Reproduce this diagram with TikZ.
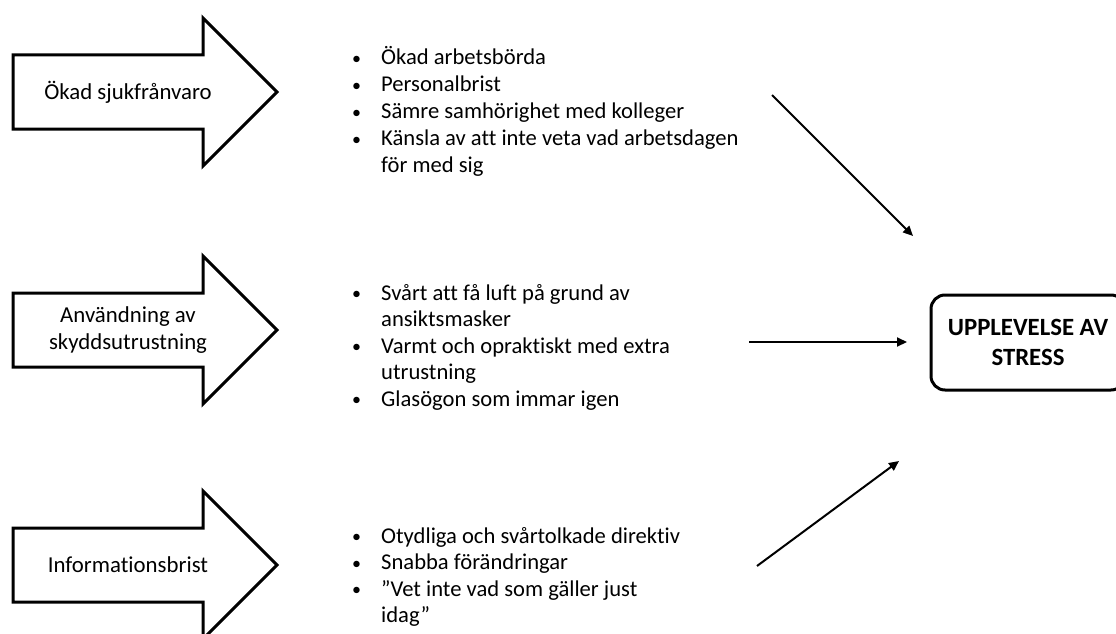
\documentclass[tikz,border=0pt]{standalone}
\usepackage{fontspec}
\setmainfont{Carlito}[Ligatures=NoCommon]
\usetikzlibrary{arrows.meta}
\tikzset{
  blockarrow/.style={line width=3pt,line join=miter,fill=white},
  factor/.style={align=center,inner sep=0pt,font=\fontsize{22.8}{27}\selectfont},
  bullets/.style={anchor=base west,inner sep=0pt,font=\fontsize{22.6}{26.6}\selectfont},
  link/.style={line width=2pt,-{Triangle[length=10pt,width=9pt]}},
  outcome/.style={draw,line width=3pt,rounded corners=14pt,minimum width=194pt,
    minimum height=95pt,align=center,font=\fontsize{24.8}{30}\selectfont\bfseries}
}
\newcommand{\pt}{\raisebox{0.5pt}{\fontsize{18}{18}\selectfont\textbullet}}
\begin{document}
\begin{tikzpicture}[x=1pt,y=-1pt]
\useasboundingbox (0,0) rectangle (1116,634);
\clip (0,0) rectangle (1116,634);
% block arrows with the three factors
\foreach \c/\nm/\txt in {92/sick/{Ökad sjukfrånvaro},330/gear/{Användning av\\skyddsutrustning},565/info/{Informationsbrist}}{
  \draw[blockarrow] (13,\c-37)--(203,\c-37)--(203,\c-74)--(277,\c)--(203,\c+74)--(203,\c+37)--(13,\c+37)--cycle;
  \node[factor] (\nm) at (128,\c) {\txt};
}
% lists
\node[bullets] (list1) at (352,65) {\renewcommand{\arraystretch}{1.015}\begin{tabular}[t]{@{}p{29pt}@{}l@{}}
\pt & Ökad arbetsbörda\\
\pt & Personalbrist\\
\pt & Sämre samhörighet med kolleger\\
\pt & Känsla av att inte veta vad arbetsdagen\\
 & för med sig
\end{tabular}};
\node[bullets] (list2) at (352,300) {\begin{tabular}[t]{@{}p{29pt}@{}l@{}}
\pt & Svårt att få luft på grund av\\
 & ansiktsmasker\\
\pt & Varmt och opraktiskt med extra\\
 & utrustning\\
\pt & Glasögon som immar igen
\end{tabular}};
\node[bullets] (list3) at (352,543) {\begin{tabular}[t]{@{}p{29pt}@{}l@{}}
\pt & Otydliga och svårtolkade direktiv\\
\pt & Snabba förändringar\\
\pt & ”Vet inte vad som gäller just\\
 & idag”
\end{tabular}};
% outcome
\node[outcome] (stress) at (1028,342.5) {UPPLEVELSE AV\\STRESS};
\coordinate (s1) at (772,95);  \coordinate (e1) at (913,236);
\coordinate (s2) at (749,342); \coordinate (e2) at (907,342);
\coordinate (s3) at (757,566); \coordinate (e3) at (899,461);
\draw[link] (s1)--(e1);
\draw[link] (s2)--(e2);
\draw[link] (s3)--(e3);
\end{tikzpicture}
\end{document}
